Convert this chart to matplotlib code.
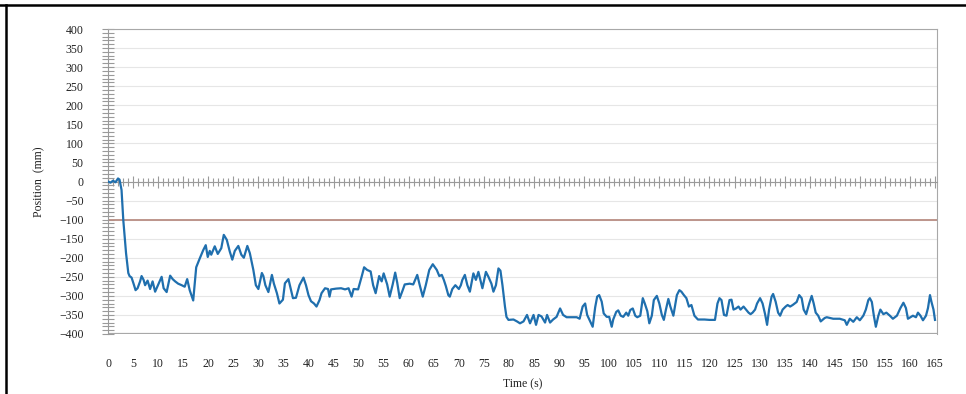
import matplotlib
matplotlib.use("Agg")
import matplotlib.pyplot as plt
from matplotlib.lines import Line2D
from matplotlib.ticker import MultipleLocator

time_s = [0.0, 0.5, 1.0, 1.5, 2.0, 2.3, 2.7, 3.05, 3.6, 4.05, 4.3, 4.7, 5.1, 5.5, 5.9, 6.4, 6.7, 7.1, 7.4, 7.9,
          8.4, 8.9, 9.4, 10.0, 10.7, 11.1, 11.7, 12.4, 12.9, 13.4, 14.0, 14.7, 15.3, 15.8, 16.3, 17.0, 17.6, 18.3,
          19.0, 19.5, 19.9, 20.3, 20.6, 21.3, 21.9, 22.6, 23.1, 23.7, 24.3, 24.8, 25.3, 26.0, 26.6, 27.1, 27.8,
          28.3, 29.0, 29.5, 30.0, 30.7, 31.0, 31.4, 32.0, 32.7, 33.1, 33.7, 34.2, 34.9, 35.3, 36.0, 36.4, 36.9,
          37.5, 38.2, 39.0, 39.5, 40.0, 40.5, 41.1, 41.6, 42.2, 42.6, 43.3, 43.9, 44.2, 44.5, 45.5, 46.5, 47.3,
          48.0, 48.6, 49.0, 49.9, 50.6, 51.1, 51.7, 52.4, 52.9, 53.4, 54.1, 54.6, 55.0, 55.7, 56.2, 56.8, 57.3,
          57.7, 58.2, 58.8, 59.2, 60.2, 60.9, 61.7, 62.2, 62.8, 63.4, 64.1, 64.8, 65.6, 66.1, 66.6, 67.0, 67.4,
          67.9, 68.2, 68.7, 69.3, 70.0, 70.4, 70.7, 71.2, 71.7, 72.2, 72.9, 73.4, 73.9, 74.3, 74.7, 75.4, 75.9,
          76.5, 76.9, 77.4, 77.9, 78.3, 78.7, 79.2, 79.5, 79.9, 80.9, 81.6, 82.2, 82.9, 83.6, 84.2, 84.9, 85.4,
          85.9, 86.5, 87.2, 87.6, 88.2, 88.8, 89.5, 90.2, 90.8, 91.5, 92.5, 93.5, 94.1, 94.7, 95.2, 95.6, 96.2,
          96.7, 97.2, 97.6, 98.0, 98.5, 98.9, 99.5, 100.0, 100.5, 100.8, 101.4, 101.8, 102.3, 102.8, 103.4,
          103.8, 104.2, 104.7, 105.2, 105.6, 106.2, 106.7, 107.1, 107.6, 108.0, 108.5, 108.9, 109.5, 110.0,
          110.5, 110.9, 111.3, 111.8, 112.2, 112.8, 113.5, 114.0, 114.4, 114.9, 115.4, 115.9, 116.4, 117.0,
          117.7, 119.0, 120.0, 121.1, 121.6, 122.0, 122.4, 122.9, 123.4, 124.0, 124.4, 124.8, 125.3, 125.8,
          126.2, 126.8, 127.3, 127.8, 128.2, 128.6, 129.1, 129.5, 130.1, 130.6, 131.1, 131.5, 131.9, 132.4,
          132.7, 133.2, 133.7, 134.1, 134.6, 135.2, 135.6, 136.1, 136.6, 137.4, 137.9, 138.4, 138.8, 139.3,
          139.9, 140.4, 140.8, 141.2, 141.7, 142.2, 143.0, 143.4, 144.7, 146.0, 147.0, 147.4, 148.0, 148.7,
          149.4, 150.0, 150.7, 151.2, 151.7, 152.0, 152.4, 152.8, 153.2, 153.7, 154.1, 154.7, 155.3, 156.0,
          156.6, 157.4, 158.1, 158.7, 159.2, 159.6, 160.1, 160.6, 161.2, 161.6, 162.1, 162.6, 163.2, 163.6,
          164.0, 164.3, 164.7, 165.0]

position_mm = [0, -3, 2, -2, 8, 5, -22, -101, -188, -240, -248, -252, -268, -285, -280, -262, -248, -258, -272, -260,
               -282, -262, -289, -271, -250, -280, -290, -247, -256, -262, -268, -272, -276, -256, -285, -312, -225, -202,
               -180, -167, -198, -182, -192, -170, -190, -175, -140, -153, -184, -205, -182, -169, -192, -200, -169,
               -188, -232, -272, -282, -240, -248, -272, -290, -245, -268, -293, -320, -310, -267, -256, -278, -306,
               -305, -272, -252, -272, -298, -314, -320, -328, -311, -293, -280, -282, -302, -283, -281, -280, -283,
               -280, -302, -282, -283, -250, -225, -232, -236, -272, -293, -248, -262, -241, -270, -302, -270, -239,
               -265, -306, -285, -270, -268, -270, -245, -272, -302, -272, -232, -217, -232, -248, -245, -258, -274,
               -298, -302, -282, -272, -282, -272, -258, -245, -272, -289, -241, -258, -237, -258, -280, -237, -250,
               -268, -289, -272, -228, -234, -272, -328, -355, -363, -362, -367, -372, -367, -350, -372, -350, -376,
               -350, -354, -370, -350, -370, -362, -355, -333, -350, -356, -356, -356, -360, -328, -320, -350, -367,
               -381, -330, -302, -298, -315, -346, -355, -355, -381, -362, -342, -338, -352, -355, -344,
               -352, -337, -333, -352, -356, -352, -306, -320, -340, -372, -352, -311, -300, -320,
               -350, -363, -337, -308, -328, -352, -298, -285, -289, -298, -306, -328, -324, -352,
               -362, -362, -363, -363, -320, -306, -311, -350, -352, -311, -310, -336, -333, -328,
               -336, -328, -336, -344, -348, -344, -336, -320, -306, -320, -348, -376, -336, -302,
               -295, -315, -344, -352, -336, -328, -324, -328, -324, -316, -298, -306, -336, -348,
               -320, -300, -320, -344, -352, -367, -358, -356, -360, -360, -364, -376, -360, -368,
               -356, -364, -352, -336, -311, -306, -316, -352, -381, -352, -336, -348, -344, -352,
               -360, -352, -332, -318, -332, -360, -356, -352, -356, -344, -352, -364, -352, -332,
               -298, -316, -336, -363]

limit_mm = -100
x_ticks = list(range(0, 166, 5))
y_ticks = list(range(-400, 401, 50))

serif = ["Liberation Serif", "DejaVu Serif"]

fig = plt.figure(figsize=(9.66, 3.94), dpi=100)
ax = fig.add_axes([108/966, 1-334/394, (937-108)/966, (334-29)/394])

ax.set_xlim(0, 165.4)
ax.set_ylim(-400, 400)

# grid
for yv in y_ticks:
    ax.axhline(yv, color="#e6e6e6", lw=0.8, zorder=0)

ax.axhline(limit_mm, color="#b98e84", lw=1.3, zorder=2)
ax.plot(time_s, position_mm, color="#1f6fae", lw=1.6, zorder=3)

grey = "#9a9a9a"
ax.spines["bottom"].set_position(("data", 0))
ax.spines["bottom"].set_color(grey)
ax.spines["left"].set_color(grey)
ax.spines["top"].set_color("#a8a8a8")
ax.spines["right"].set_color("#a8a8a8")
ax.axhline(-400, color="#a8a8a8", lw=1.6, zorder=1)

ax.set_xticks(x_ticks)
ax.xaxis.set_minor_locator(MultipleLocator(1))
ax.set_yticks(y_ticks)
ax.yaxis.set_minor_locator(MultipleLocator(10))
ax.tick_params(axis="x", which="major", direction="inout", length=8, width=0.8, color=grey, labelbottom=False)
ax.tick_params(axis="x", which="minor", direction="inout", length=6, width=0.8, color=grey)
ax.tick_params(axis="y", which="major", direction="inout", length=9, width=0.8, color=grey, pad=13,
               labelsize=8.5, labelcolor="#222222")
ax.tick_params(axis="y", which="minor", direction="inout", length=8, width=0.8, color=grey)
for lab in ax.get_yticklabels():
    lab.set_family(serif)

ax2 = ax.twiny()
ax2.set_xlim(ax.get_xlim())
ax2.xaxis.set_ticks_position("bottom")
ax2.xaxis.set_label_position("bottom")
for s in ax2.spines.values():
    s.set_visible(False)
ax2.set_xticks(x_ticks)
ax2.tick_params(axis="x", length=0, pad=17, labelsize=8.5, labelcolor="#222222")
for lab in ax2.get_xticklabels():
    lab.set_family(serif)
ax2.set_xlabel("Time (s)", family=serif, fontsize=8.5, labelpad=6, color="#222222")

ax.set_ylabel("Position  (mm)", family=serif, fontsize=8.5, labelpad=10, color="#222222")

# image frame lines
fig.add_artist(Line2D([0, 1], [1-5/394, 1-5/394], transform=fig.transFigure, color="black", lw=1.8))
fig.add_artist(Line2D([6/966, 6/966], [0, 1-5/394], transform=fig.transFigure, color="black", lw=1.8))

fig.savefig("out.png", dpi=100)
